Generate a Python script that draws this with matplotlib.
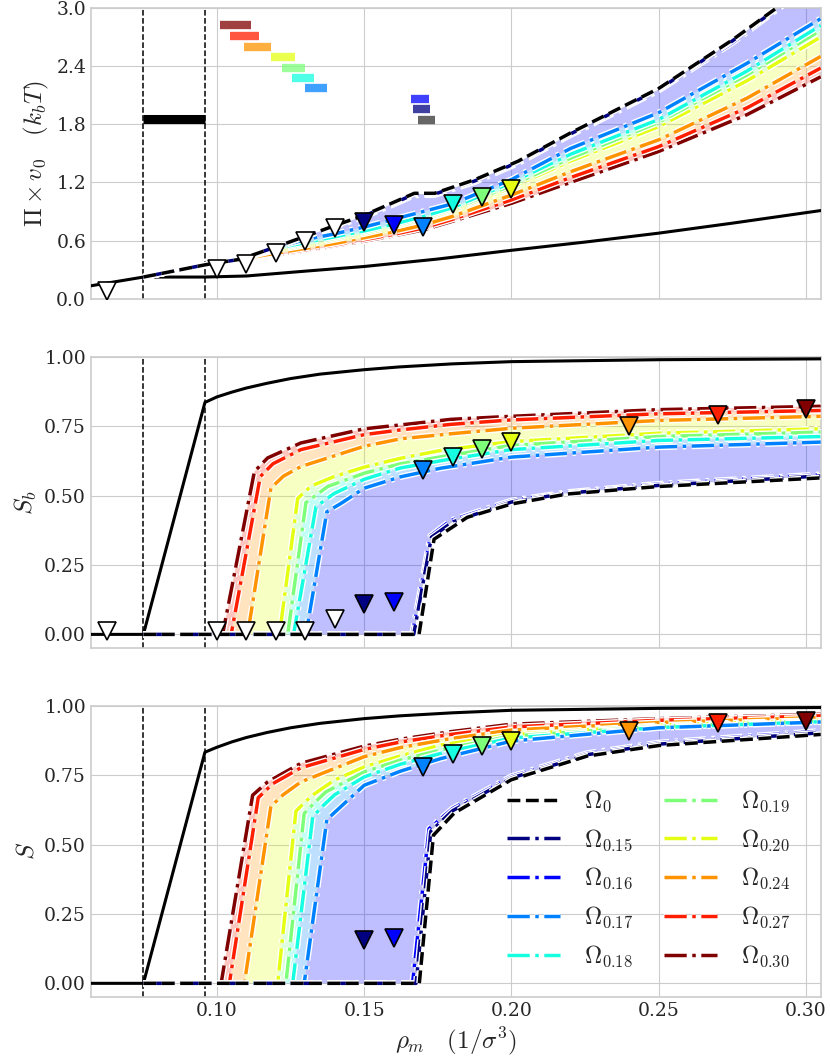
import numpy as np
import matplotlib
matplotlib.use('Agg')
import matplotlib.pyplot as plt
import matplotlib.patheffects as pe
from matplotlib.ticker import FormatStrFormatter

# curve labels (Omega_0 first, then the ordered ones)
OMEGA = ['0', '0.15', '0.16', '0.17', '0.18', '0.19', '0.20', '0.24', '0.27', '0.30']

# coexistence densities of the reference system
RHO_COEX = [0.075, 0.0959]

# reference system (solid black)
REF_PI_X = [0.0572, 0.075, 0.0959, 0.11, 0.13, 0.15, 0.175, 0.20, 0.225, 0.25, 0.275, 0.305]
REF_PI_Y = [0.134, 0.224, 0.224, 0.235, 0.285, 0.333, 0.41, 0.50, 0.585, 0.677, 0.78, 0.91]
REF_S_X = [0.0572, 0.075, 0.0959, 0.10, 0.105, 0.11, 0.117, 0.125, 0.135, 0.15, 0.162, 0.18, 0.20, 0.25, 0.305]
REF_SB_Y = [0.0, 0.0, 0.836, 0.856, 0.873, 0.888, 0.905, 0.922, 0.938, 0.954, 0.964, 0.975, 0.983, 0.990, 0.993]
REF_S_Y = [0.0, 0.0, 0.833, 0.851, 0.870, 0.886, 0.904, 0.921, 0.937, 0.954, 0.964, 0.975, 0.984, 0.991, 0.994]

# pressure curves, one row per omega
PI_X0 = [0.075, 0.0959, 0.108, 0.12, 0.1307, 0.14, 0.15, 0.16, 0.167, 0.1739, 0.1875, 0.2023, 0.22, 0.25, 0.275, 0.29, 0.305]
PI_XC = [0.075, 0.0959, 0.11, 0.12, 0.13, 0.14, 0.15, 0.16, 0.17, 0.18, 0.20, 0.22, 0.25, 0.28, 0.305]
PI_X = [PI_X0, PI_X0, PI_X0] + [PI_XC] * 7
PI_Y = [
    [0.224, 0.35, 0.408, 0.535, 0.652, 0.755, 0.862, 0.995, 1.088, 1.088, 1.228, 1.42, 1.71, 2.17, 2.67, 3.0, 3.35],
    [0.224, 0.35, 0.408, 0.535, 0.65, 0.75, 0.855, 0.985, 1.08, 1.08, 1.215, 1.41, 1.70, 2.16, 2.66, 2.99, 3.33],
    [0.224, 0.35, 0.408, 0.535, 0.648, 0.745, 0.848, 0.975, 1.07, 1.072, 1.205, 1.40, 1.69, 2.15, 2.64, 2.98, 3.31],
    [0.224, 0.35, 0.43, 0.53, 0.61, 0.67, 0.74, 0.82, 0.90, 0.98, 1.23, 1.55, 1.92, 2.43, 2.89],
    [0.224, 0.35, 0.43, 0.52, 0.58, 0.64, 0.70, 0.77, 0.85, 0.94, 1.20, 1.49, 1.85, 2.35, 2.82],
    [0.224, 0.35, 0.43, 0.51, 0.565, 0.625, 0.685, 0.755, 0.835, 0.925, 1.17, 1.45, 1.82, 2.31, 2.77],
    [0.224, 0.35, 0.43, 0.50, 0.55, 0.61, 0.67, 0.74, 0.82, 0.91, 1.15, 1.42, 1.776, 2.25, 2.70],
    [0.224, 0.35, 0.42, 0.47, 0.52, 0.57, 0.63, 0.69, 0.76, 0.85, 1.07, 1.31, 1.64, 2.07, 2.50],
    [0.224, 0.35, 0.415, 0.46, 0.505, 0.555, 0.61, 0.665, 0.73, 0.82, 1.02, 1.25, 1.57, 1.97, 2.38],
    [0.224, 0.35, 0.41, 0.45, 0.495, 0.545, 0.595, 0.65, 0.71, 0.80, 0.985, 1.20, 1.52, 1.90, 2.29],
]

# bond order parameter S_b
SB_X = [
    [0.075, 0.1686, 0.1737, 0.185, 0.20, 0.219, 0.25, 0.305],
    [0.075, 0.1668, 0.1728, 0.18, 0.20, 0.219, 0.25, 0.305],
    [0.075, 0.1663, 0.1725, 0.1793, 0.20, 0.219, 0.25, 0.305],
    [0.075, 0.1302, 0.1373, 0.1421, 0.15, 0.1624, 0.176, 0.20, 0.25, 0.305],
    [0.075, 0.126, 0.1336, 0.1398, 0.15, 0.1624, 0.1783, 0.20, 0.25, 0.305],
    [0.075, 0.124, 0.1302, 0.1376, 0.15, 0.1624, 0.1783, 0.20, 0.25, 0.305],
    [0.075, 0.1212, 0.1274, 0.132, 0.1398, 0.15, 0.1624, 0.176, 0.20, 0.25, 0.305],
    [0.075, 0.1104, 0.1183, 0.1225, 0.1285, 0.15, 0.1624, 0.1794, 0.20, 0.25, 0.305],
    [0.075, 0.1048, 0.1147, 0.119, 0.1285, 0.15, 0.1624, 0.1794, 0.20, 0.25, 0.305],
    [0.075, 0.1019, 0.1127, 0.1172, 0.1285, 0.15, 0.1624, 0.1794, 0.20, 0.25, 0.305],
]
SB_Y = [
    [0.0, 0.0, 0.343, 0.422, 0.47, 0.506, 0.533, 0.564],
    [0.0, 0.0, 0.35, 0.405, 0.477, 0.509, 0.537, 0.571],
    [0.0, 0.0, 0.355, 0.41, 0.482, 0.512, 0.542, 0.576],
    [0.0, 0.0, 0.442, 0.472, 0.527, 0.568, 0.599, 0.639, 0.675, 0.693],
    [0.0, 0.0, 0.46, 0.508, 0.559, 0.600, 0.63, 0.666, 0.699, 0.713],
    [0.0, 0.0, 0.475, 0.533, 0.581, 0.615, 0.644, 0.681, 0.713, 0.729],
    [0.0, 0.0, 0.49, 0.535, 0.569, 0.603, 0.635, 0.663, 0.695, 0.725, 0.741],
    [0.0, 0.0, 0.527, 0.57, 0.605, 0.678, 0.705, 0.723, 0.743, 0.771, 0.786],
    [0.0, 0.0, 0.569, 0.615, 0.666, 0.72, 0.737, 0.757, 0.773, 0.795, 0.807],
    [0.0, 0.0, 0.587, 0.636, 0.69, 0.741, 0.755, 0.775, 0.786, 0.81, 0.822],
]

# orientational order parameter S
S_X = [
    [0.075, 0.1687, 0.1735, 0.1806, 0.20, 0.2257, 0.25, 0.305],
    [0.075, 0.1676, 0.1726, 0.18, 0.20, 0.2257, 0.25, 0.305],
    [0.075, 0.1664, 0.172, 0.18, 0.20, 0.2257, 0.25, 0.305],
    [0.075, 0.1296, 0.1373, 0.1432, 0.15, 0.1624, 0.176, 0.20, 0.25, 0.305],
    [0.075, 0.1257, 0.1325, 0.136, 0.14, 0.15, 0.1624, 0.1783, 0.20, 0.25, 0.305],
    [0.075, 0.1234, 0.1296, 0.133, 0.137, 0.15, 0.1624, 0.1783, 0.20, 0.25, 0.305],
    [0.075, 0.1206, 0.1268, 0.132, 0.1398, 0.15, 0.1624, 0.176, 0.20, 0.25, 0.305],
    [0.075, 0.1093, 0.1183, 0.1225, 0.1285, 0.15, 0.1624, 0.1794, 0.20, 0.25, 0.305],
    [0.075, 0.1042, 0.114, 0.119, 0.1285, 0.15, 0.1624, 0.1794, 0.20, 0.25, 0.305],
    [0.075, 0.1014, 0.1121, 0.1172, 0.1285, 0.15, 0.1624, 0.1794, 0.20, 0.25, 0.305],
]
S_Y = [
    [0.0, 0.0, 0.534, 0.614, 0.734, 0.819, 0.857, 0.897],
    [0.0, 0.0, 0.548, 0.622, 0.740, 0.824, 0.862, 0.903],
    [0.0, 0.0, 0.557, 0.63, 0.746, 0.829, 0.867, 0.909],
    [0.0, 0.0, 0.59, 0.648, 0.714, 0.765, 0.81, 0.873, 0.921, 0.942],
    [0.0, 0.0, 0.60, 0.64, 0.68, 0.744, 0.79, 0.835, 0.884, 0.922, 0.943],
    [0.0, 0.0, 0.612, 0.65, 0.69, 0.762, 0.805, 0.847, 0.891, 0.926, 0.946],
    [0.0, 0.0, 0.621, 0.675, 0.732, 0.78, 0.82, 0.859, 0.897, 0.93, 0.949],
    [0.0, 0.0, 0.638, 0.68, 0.726, 0.817, 0.85, 0.882, 0.913, 0.94, 0.958],
    [0.0, 0.0, 0.669, 0.72, 0.777, 0.843, 0.87, 0.897, 0.924, 0.948, 0.964],
    [0.0, 0.0, 0.678, 0.726, 0.793, 0.855, 0.88, 0.907, 0.934, 0.954, 0.970],
]

# coexistence bars drawn in the pressure panel
BAR_X0 = [0.1684, 0.1664, 0.1660, 0.1298, 0.1255, 0.1220, 0.1184, 0.1092, 0.1045, 0.1011]
BAR_X1 = [0.1740, 0.1724, 0.1720, 0.1373, 0.1330, 0.1300, 0.1266, 0.1183, 0.1141, 0.1115]
BAR_Y = [1.845, 1.96, 2.06, 2.17, 2.275, 2.385, 2.49, 2.60, 2.71, 2.82]
REF_BAR_Y = 1.85

# simulation points
SIM_RHO_W = [0.0625, 0.10, 0.11, 0.12, 0.13, 0.14]
SIM_PI_W = [0.085, 0.31, 0.355, 0.47, 0.60, 0.735]
SIM_SB_W = [0.013, 0.013, 0.013, 0.013, 0.013, 0.056]
SIM_RHO = [0.15, 0.16, 0.17, 0.18, 0.19, 0.20, 0.24, 0.27, 0.30]
SIM_PI = [0.79, 0.765, 0.745, 0.98, 1.052, 1.134]
SIM_SB = [0.11, 0.115, 0.593, 0.638, 0.669, 0.694, 0.752, 0.791, 0.812]
SIM_S = [0.157, 0.162, 0.778, 0.825, 0.854, 0.873, 0.911, 0.937, 0.945]

plt.style.use('seaborn-v0_8-whitegrid')
plt.rcParams['font.family'] = 'serif'
plt.rcParams['font.serif'] = ['DejaVu Serif']
plt.rcParams['mathtext.fontset'] = 'cm'

colors = ['black'] + list(plt.cm.jet(np.linspace(0, 1, 9)))
sim_colors = colors[1:]

fig, axes = plt.subplots(3, 1, figsize=(8.3, 10.64), dpi=100, sharex=True)
fig.subplots_adjust(left=0.1096, right=0.9888, top=0.9925, bottom=0.0633, hspace=0.2)

white_edge = [pe.Stroke(linewidth=4.5, foreground='white'), pe.Normal()]


def draw_panel(ax, xs, ys, ref_x, ref_y):
    # filled bands between neighbouring omegas
    for k in range(1, len(xs) - 1):
        px = np.r_[xs[k], xs[k + 1][::-1]]
        py = np.r_[ys[k], ys[k + 1][::-1]]
        ax.fill(px, py, color=colors[k], alpha=0.25, lw=0, zorder=1)
    ax.plot(ref_x, ref_y, color='black', lw=2.2, zorder=3)
    for k in range(len(xs) - 1, -1, -1):
        ls = '--' if k == 0 else '-.'
        ax.plot(xs[k], ys[k], ls=ls, color=colors[k], lw=2.5, zorder=4,
                label=r'$\Omega_{%s}$' % OMEGA[k], path_effects=white_edge)
    for r in RHO_COEX:
        ax.axvline(r, color='black', ls='--', lw=1.1, zorder=2)


ax1, ax2, ax3 = axes
draw_panel(ax1, PI_X, PI_Y, REF_PI_X, REF_PI_Y)
draw_panel(ax2, SB_X, SB_Y, REF_S_X, REF_SB_Y)
draw_panel(ax3, S_X, S_Y, REF_S_X, REF_S_Y)

# coexistence bars
ax1.plot(RHO_COEX, [REF_BAR_Y, REF_BAR_Y], color='black', lw=6.5, solid_capstyle='butt', zorder=5)
for k in range(len(BAR_Y)):
    ax1.plot([BAR_X0[k], BAR_X1[k]], [BAR_Y[k], BAR_Y[k]], color=colors[k], alpha=0.75 if k else 0.6,
             lw=6, solid_capstyle='butt', zorder=5)

mk = dict(marker='v', ms=12.5, mec='black', mew=1.2, ls='none', zorder=6)
ax1.plot(SIM_RHO_W, SIM_PI_W, mfc='white', **mk)
for i in range(len(SIM_PI)):
    ax1.plot(SIM_RHO[i], SIM_PI[i], mfc=sim_colors[i], **mk)
ax2.plot(SIM_RHO_W, SIM_SB_W, mfc='white', **mk)
for i in range(len(SIM_SB)):
    ax2.plot(SIM_RHO[i], SIM_SB[i], mfc=sim_colors[i], **mk)
for i in range(len(SIM_S)):
    ax3.plot(SIM_RHO[i], SIM_S[i], mfc=sim_colors[i], **mk)

ax1.set_ylim(0, 3.0)
ax1.set_yticks([0.0, 0.6, 1.2, 1.8, 2.4, 3.0])
ax1.yaxis.set_major_formatter(FormatStrFormatter('%.1f'))
for ax in (ax2, ax3):
    ax.set_ylim(-0.048, 1.0)
    ax.set_yticks([0.0, 0.25, 0.5, 0.75, 1.0])
    ax.yaxis.set_major_formatter(FormatStrFormatter('%.2f'))
ax3.set_xlim(0.0572, 0.305)
ax3.set_xticks([0.10, 0.15, 0.20, 0.25, 0.30])
ax3.xaxis.set_major_formatter(FormatStrFormatter('%.2f'))

for ax in axes:
    ax.tick_params(labelsize=13.5)
    for s in ax.spines.values():
        s.set_color('0.8')
        s.set_linewidth(1.2)

ax1.set_ylabel(r'$\Pi \times v_0 \quad (k_bT)$', fontsize=18)
ax2.set_ylabel(r'$S_b$', fontsize=18)
ax3.set_ylabel(r'$S$', fontsize=18)
ax3.set_xlabel(r'$\rho_m \quad (1/\sigma^3)$', fontsize=18)

h, l = ax3.get_legend_handles_labels()
order = sorted(range(len(l)), key=lambda i: OMEGA.index(l[i][9:-2]))
ax3.legend([h[i] for i in order], [l[i] for i in order], loc='lower right', ncol=2,
           frameon=False, fontsize=17, handlelength=2.25, handletextpad=1.0,
           columnspacing=1.3, labelspacing=0.57, bbox_to_anchor=(0.987, 0.022))

fig.savefig('out.png', dpi=100)
